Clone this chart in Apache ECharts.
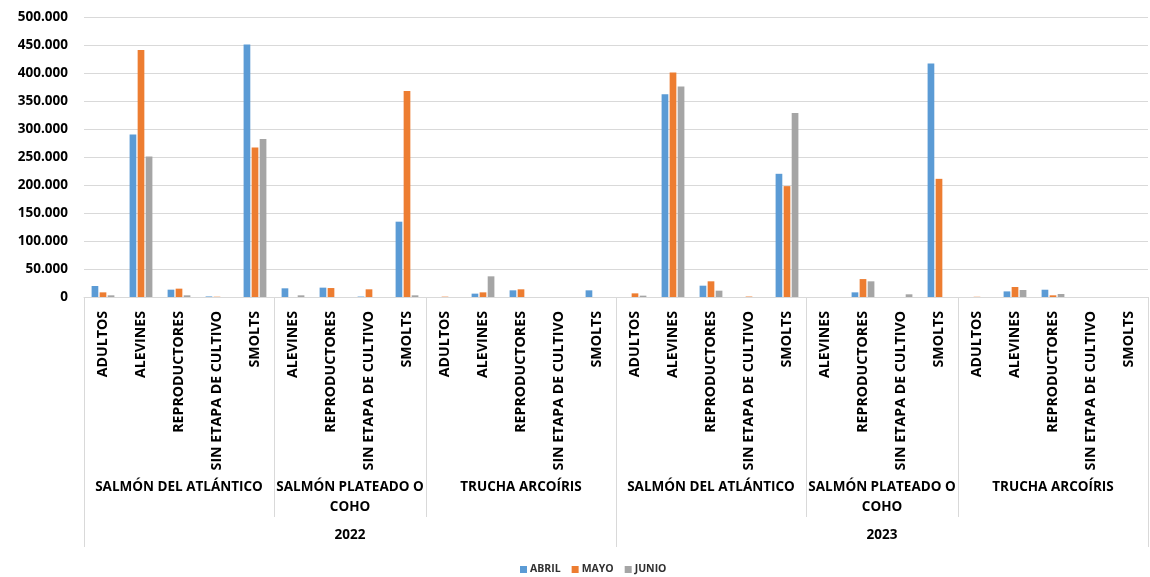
<!DOCTYPE html>
<html>
<head>
<meta charset="utf-8">
<script src="https://cdn.jsdelivr.net/npm/echarts@6/dist/echarts.min.js"></script>
<style>
html,body{margin:0;padding:0;background:#fff;}
#chart{width:1150px;height:577px;}
</style>
</head>
<body>
<div id="chart"></div>
<script>
// Level 1: stage categories (28)
const categories = [
  'ADULTOS','ALEVINES','REPRODUCTORES','SIN ETAPA DE CULTIVO','SMOLTS',
  'ALEVINES','REPRODUCTORES','SIN ETAPA DE CULTIVO','SMOLTS',
  'ADULTOS','ALEVINES','REPRODUCTORES','SIN ETAPA DE CULTIVO','SMOLTS',
  'ADULTOS','ALEVINES','REPRODUCTORES','SIN ETAPA DE CULTIVO','SMOLTS',
  'ALEVINES','REPRODUCTORES','SIN ETAPA DE CULTIVO','SMOLTS',
  'ADULTOS','ALEVINES','REPRODUCTORES','SIN ETAPA DE CULTIVO','SMOLTS'
];
// Level 2: species groups and how many stages each spans
const species = ['SALMÓN DEL ATLÁNTICO','SALMÓN PLATEADO O\nCOHO','TRUCHA ARCOÍRIS',
                 'SALMÓN DEL ATLÁNTICO','SALMÓN PLATEADO O\nCOHO','TRUCHA ARCOÍRIS'];
const speciesSpan = [5,4,5,5,4,5];
// Level 3: years and spans (in species groups)
const years = ['2022','2023'];
const yearSpan = [3,3];

const seriesNames = ['ABRIL','MAYO','JUNIO'];
const abril = [19600,290000,13100,1000,451000, 15500,16700,800,134500, 0,6000,11900,0,11900,
               0,362000,20200,0,220000, 0,8300,0,417000, 0,10000,13000,0,0];
const mayo  = [8300,441000,14900,500,267000, 0,16000,13700,368000, 600,8300,13700,0,0,
               6500,401000,28000,800,198000, 0,32000,0,211000, 400,17900,3000,0,0];
const junio = [3000,251000,3000,0,282000, 3000,0,0,3000, 0,36900,0,0,0,
               2400,376000,11300,0,328600, 0,28000,4800,0, 0,12500,5400,0,0];

const yTicks = {min:0, max:500000, interval:50000};

// Build half-step positions (57 points across 28 categories)
const N = categories.length;
const halfPts = [];
for (let j = 0; j <= 2*N; j++) halfPts.push(String(j));
const speciesLabelAt = {}, speciesBounds = new Set();
let c = 0;
species.forEach((s,i)=>{ speciesLabelAt[c*2 + speciesSpan[i]] = s; c += speciesSpan[i]; speciesBounds.add(c*2); });
const yearLabelAt = {}, yearBounds = new Set([0]);
let gi = 0, cc = 0;
years.forEach((y,i)=>{
  let start = cc;
  for (let k=0;k<yearSpan[i];k++){ cc += speciesSpan[gi++]; }
  yearLabelAt[start + cc] = y;
  yearBounds.add(cc*2);
});
yearBounds.forEach(b=>speciesBounds.delete(b));

const fmt = v => String(v).replace(/\B(?=(\d{3})+(?!\d))/g,'.');
const FONT = '"Open Sans", Lato, sans-serif';
const gridColor = '#D9D9D9';

const chart = echarts.init(document.getElementById('chart'), null, {renderer:'canvas'});
chart.setOption({
  animation:false,
  color:['#5B9BD5','#ED7D31','#A5A5A5'],
  grid:{left:84, right:2, top:17, bottom:280, containLabel:false},
  legend:{
    top:559, left:515, itemWidth:7, itemHeight:7, itemGap:11,
    icon:'rect',
    textStyle:{fontFamily:FONT, fontWeight:'bold', fontSize:10.5, color:'#303030', padding:[0,0,0,-2]},
    data:seriesNames
  },
  xAxis:[
    {
      type:'category', data:categories, position:'bottom',
      axisLine:{show:true, lineStyle:{color:gridColor, width:1}},
      axisTick:{show:false},
      axisLabel:{rotate:90, interval:0, margin:14, fontFamily:FONT, fontWeight:'bold',
                 fontSize:14.2, color:'#000'}
    },
    {
      type:'category', data:halfPts, boundaryGap:false, position:'bottom',
      axisLine:{show:false},
      axisTick:{show:true, length:220, interval:(i)=>speciesBounds.has(i),
                lineStyle:{color:gridColor, width:1}},
      axisLabel:{show:true, margin:180, interval:(i)=>speciesLabelAt[i]!==undefined,
                 formatter:(v,i)=>speciesLabelAt[i]||'', fontFamily:FONT, fontWeight:'bold',
                 fontSize:13.5, color:'#000', lineHeight:20, align:'center'}
    },
    {
      type:'category', data:halfPts, boundaryGap:false, position:'bottom',
      axisLine:{show:false},
      axisTick:{show:true, length:250, interval:(i)=>yearBounds.has(i),
                lineStyle:{color:gridColor, width:1}},
      axisLabel:{show:true, margin:231, interval:(i)=>yearLabelAt[i]!==undefined,
                 formatter:(v,i)=>yearLabelAt[i]||'', fontFamily:FONT, fontWeight:'bold',
                 fontSize:13.5, color:'#000'}
    }
  ],
  yAxis:{
    type:'value', min:yTicks.min, max:yTicks.max, interval:yTicks.interval,
    axisLine:{show:false}, axisTick:{show:false},
    splitLine:{lineStyle:{color:gridColor, width:1}},
    axisLabel:{formatter:fmt, margin:16, fontFamily:FONT, fontWeight:'bold', fontSize:13.5, color:'#000'}
  },
  series:[abril, mayo, junio].map((d,i)=>({
    name:seriesNames[i], type:'bar', data:d, xAxisIndex:0,
    barGap:'20%', barCategoryGap:'40%'
  }))
});
</script>
</body>
</html>
